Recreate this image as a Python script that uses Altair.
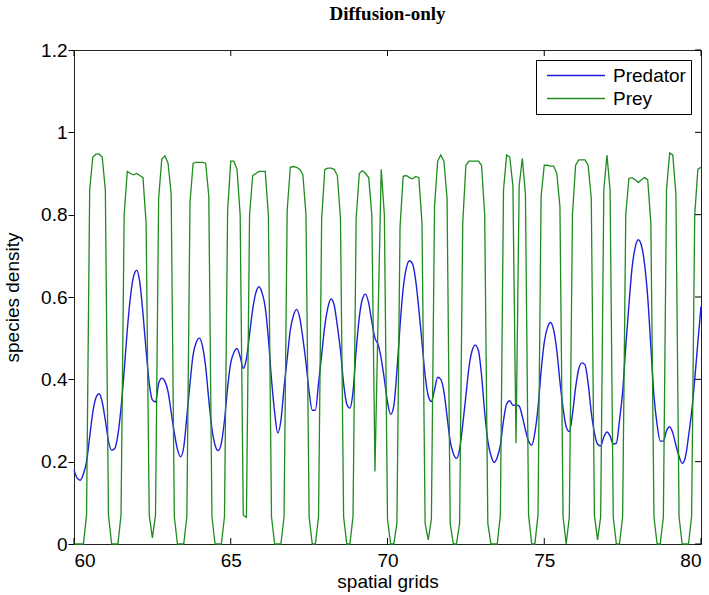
import altair as alt
import pandas as pd

# ---- data (spatial grid step 0.1, from 60 to 80) ----
x_start = 60.0
x_step = 0.1

predator = [
    0.18, 0.16, 0.155, 0.17, 0.20, 0.26, 0.32, 0.355, 0.365, 0.345,
    0.30, 0.25, 0.228, 0.232, 0.265, 0.33, 0.42, 0.52, 0.60, 0.65,
    0.665, 0.635, 0.56, 0.47, 0.39, 0.35, 0.345, 0.39, 0.403, 0.395,
    0.37, 0.32, 0.27, 0.23, 0.212, 0.235, 0.31, 0.39, 0.46, 0.49,
    0.50, 0.48, 0.43, 0.35, 0.28, 0.24, 0.227, 0.245, 0.30, 0.38,
    0.44, 0.465, 0.475, 0.455, 0.427, 0.45, 0.51, 0.57, 0.61, 0.625,
    0.61, 0.575, 0.50, 0.40, 0.32, 0.27, 0.30, 0.38, 0.45, 0.52,
    0.555, 0.57, 0.55, 0.50, 0.44, 0.37, 0.325, 0.325, 0.39, 0.46,
    0.53, 0.575, 0.595, 0.58, 0.53, 0.47, 0.39, 0.34, 0.33, 0.37,
    0.47, 0.55, 0.595, 0.607, 0.585, 0.54, 0.50, 0.485, 0.45, 0.40,
    0.345, 0.315, 0.335, 0.42, 0.53, 0.62, 0.67, 0.688, 0.68, 0.64,
    0.57, 0.49, 0.41, 0.36, 0.346, 0.375, 0.405, 0.40, 0.37, 0.31,
    0.25, 0.22, 0.208, 0.23, 0.29, 0.36, 0.43, 0.47, 0.483, 0.47,
    0.41, 0.32, 0.25, 0.215, 0.198, 0.21, 0.24, 0.30, 0.34, 0.348,
    0.337, 0.338, 0.335, 0.31, 0.277, 0.25, 0.24, 0.27, 0.33, 0.42,
    0.49, 0.525, 0.538, 0.52, 0.47, 0.395, 0.33, 0.285, 0.273, 0.315,
    0.38, 0.425, 0.44, 0.435, 0.39, 0.32, 0.27, 0.243, 0.238, 0.26,
    0.272, 0.262, 0.243, 0.245, 0.30, 0.37, 0.48, 0.58, 0.67, 0.72,
    0.739, 0.725, 0.68, 0.60, 0.48, 0.36, 0.29, 0.25, 0.25, 0.275,
    0.285, 0.27, 0.24, 0.213, 0.196, 0.21, 0.26, 0.32, 0.40, 0.49,
    0.577,
]

prey = [
    0.0, 0.0, 0.0, 0.0, 0.07, 0.86, 0.94, 0.947, 0.947, 0.94,
    0.86, 0.07, 0.0, 0.0, 0.0, 0.07, 0.80, 0.905, 0.90, 0.897,
    0.90, 0.895, 0.89, 0.78, 0.07, 0.015, 0.07, 0.84, 0.935, 0.943,
    0.925, 0.85, 0.066, 0.0, 0.0, 0.0, 0.066, 0.83, 0.925, 0.927,
    0.927, 0.927, 0.925, 0.845, 0.066, 0.0, 0.0, 0.0, 0.066, 0.81,
    0.93, 0.93, 0.91, 0.80, 0.07, 0.065, 0.80, 0.895, 0.90, 0.905,
    0.905, 0.905, 0.80, 0.066, 0.0, 0.0, 0.0, 0.066, 0.81, 0.915,
    0.917, 0.915, 0.91, 0.897, 0.80, 0.066, 0.0, 0.0, 0.066, 0.79,
    0.91, 0.913, 0.913, 0.91, 0.895, 0.79, 0.066, 0.0, 0.0, 0.066,
    0.79, 0.90, 0.907, 0.90, 0.89, 0.80, 0.176, 0.55, 0.91, 0.80,
    0.06, 0.0, 0.0, 0.05, 0.77, 0.893, 0.895, 0.89, 0.887, 0.893,
    0.89, 0.78, 0.05, 0.01, 0.06, 0.82, 0.93, 0.945, 0.93, 0.84,
    0.05, 0.0, 0.0, 0.05, 0.78, 0.92, 0.93, 0.93, 0.93, 0.93,
    0.92, 0.80, 0.05, 0.0, 0.0, 0.0, 0.07, 0.86, 0.945, 0.94,
    0.87, 0.245, 0.87, 0.937, 0.85, 0.07, 0.0, 0.0, 0.07, 0.845,
    0.92, 0.92, 0.918, 0.918, 0.90, 0.82, 0.066, 0.0, 0.066, 0.80,
    0.92, 0.933, 0.933, 0.933, 0.92, 0.84, 0.07, 0.01, 0.066, 0.86,
    0.945, 0.86, 0.066, 0.0, 0.0, 0.066, 0.80, 0.888, 0.89, 0.885,
    0.878, 0.885, 0.89, 0.885, 0.78, 0.066, 0.0, 0.0, 0.066, 0.86,
    0.95, 0.945, 0.85, 0.066, 0.0, 0.0, 0.0, 0.066, 0.80, 0.91,
    0.915,
]

series_names = ["Predator", "Prey"]
series_colors = ["#1f1fd8", "#1e8c1e"]
x_ticks = [60, 65, 70, 75, 80]
y_ticks = [0, 0.2, 0.4, 0.6, 0.8, 1.0, 1.2]

# ---- tables ----
xs = [round(x_start + i * x_step, 1) for i in range(len(prey))]
df = pd.DataFrame({
    "x": xs + xs,
    "y": predator + prey,
    "species": [series_names[0]] * len(predator) + [series_names[1]] * len(prey),
})
xt = pd.DataFrame({"t": x_ticks})
yt = pd.DataFrame({"t": y_ticks})

X_DOM = [60, 80]
Y_DOM = [0, 1.2]
FONT = "Liberation Sans"

xscale = alt.Scale(domain=X_DOM, nice=False, zero=False)
yscale = alt.Scale(domain=Y_DOM, nice=False, zero=False)

color = alt.Color(
    "species:N",
    scale=alt.Scale(domain=series_names, range=series_colors),
    legend=alt.Legend(
        title=None,
        orient="none",
        legendX=462,
        legendY=10,
        direction="vertical",
        symbolType="M-3,0H3",
        symbolSize=374,
        symbolStrokeWidth=1.3,
        symbolOffset=24.5,
        labelFont=FONT,
        labelFontSize=19,
        labelColor="black",
        labelOffset=26.5,
        padding=5,
        rowPadding=2,
        strokeColor="black",
        fillColor="white",
        cornerRadius=0,
    ),
)

xenc = alt.X(
    "x:Q", scale=xscale,
    axis=alt.Axis(
        values=x_ticks, title="spatial grids", ticks=False, grid=False,
        labelFont=FONT, labelFontSize=19, labelColor="black", labelPadding=7,
        titleFont=FONT, titleFontSize=19, titleFontWeight="normal", titleColor="black",
        titlePadding=2, domain=False, format="~g",
    ),
)
yenc = alt.Y(
    "y:Q", scale=yscale,
    axis=alt.Axis(
        values=y_ticks, title="species density", ticks=True, tickSize=6,
        tickColor="black", grid=False,
        labelFont=FONT, labelFontSize=19, labelColor="black", labelPadding=1,
        titleFont=FONT, titleFontSize=19, titleFontWeight="normal", titleColor="black",
        titlePadding=18, domain=False, format="~g",
    ),
)

base = alt.Chart(df)
pred_line = base.transform_filter(alt.datum.species == "Predator").mark_line(
    strokeWidth=1.4, interpolate="monotone"
).encode(x=xenc, y=yenc, color=color)
prey_line = base.transform_filter(alt.datum.species == "Prey").mark_line(
    strokeWidth=1.3, interpolate="linear"
).encode(x=xenc, y=yenc, color=color)

tick_style = dict(color="black", strokeWidth=1)
bottom_ticks = alt.Chart(xt).mark_rule(**tick_style).encode(
    x=alt.X("t:Q", scale=xscale), y=alt.YValue(494), y2=alt.Y2Value(488)
)
top_ticks = alt.Chart(xt).mark_rule(**tick_style).encode(
    x=alt.X("t:Q", scale=xscale), y=alt.YValue(0), y2=alt.Y2Value(6)
)
right_ticks = alt.Chart(yt).mark_rule(**tick_style).encode(
    y=alt.Y("t:Q", scale=yscale), x=alt.XValue(627), x2=alt.X2Value(621)
)

chart = alt.layer(
    pred_line, prey_line, bottom_ticks, top_ticks, right_ticks
).properties(
    width=627,
    height=494,
    padding={"left": 74, "top": 50, "right": 8, "bottom": 51},
    autosize=alt.AutoSizeParams(type="none"),
    background="white",
    title=alt.TitleParams(
        "Diffusion-only", font="Liberation Serif", fontWeight="bold",
        fontSize=19, color="black", anchor="middle", frame="group", offset=17,
    ),
).configure_view(
    stroke="#222", strokeWidth=1
)

chart.save("out.html", embed_options={"renderer": "svg", "actions": False})
